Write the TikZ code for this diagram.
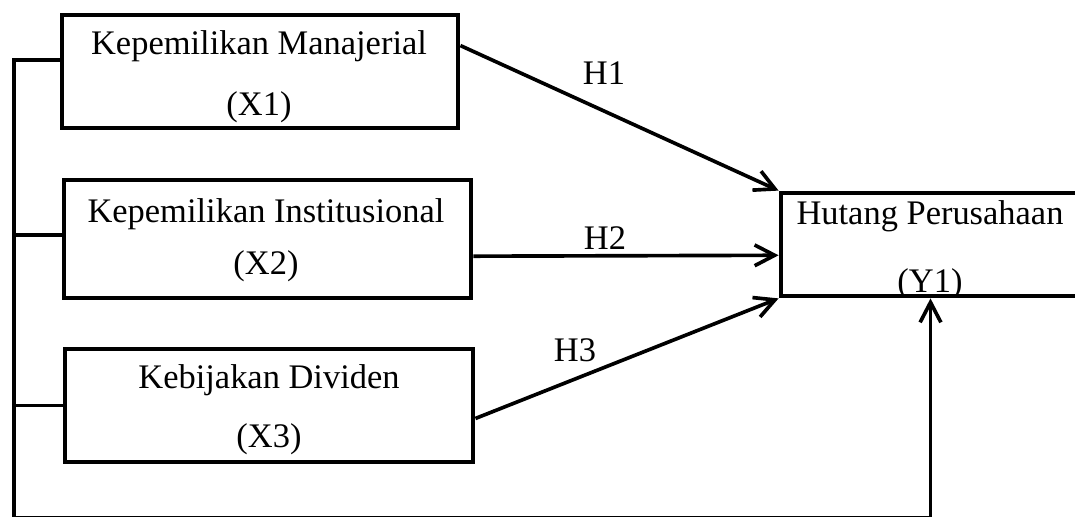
\documentclass[tikz,border=0pt]{standalone}
\usepackage{fontspec}
\setmainfont{Liberation Serif}
\usetikzlibrary{arrows.meta,calc}

\begin{document}
\begin{tikzpicture}[
  x=0.025cm,y=-0.025cm,
  varbox/.style={draw=black, line width=3.4pt, inner sep=0pt},
  link/.style={draw=black, line width=2.6pt},
  hyparrow/.style={link, -{Straight Barb[length=5mm,width=5.2mm]}},
  vartext/.style={anchor=base, inner sep=0pt,
    font=\fontsize{24.5}{29}\selectfont}
]

% Picture frame; the right side of the Y1 box runs off the page.
\clip (0,0) rectangle (1075,517);

% Independent variables.
\node[varbox, minimum width=9.9cm, minimum height=2.825cm]
  (x1) at (260,71.5) {};
\node[vartext] (x1name) at (259,55) {Kepemilikan Manajerial};
\node[vartext] (x1code) at (259,116) {(X1)};

\node[varbox, minimum width=10.175cm, minimum height=2.95cm]
  (x2) at (267.5,239) {};
\node[vartext] (x2name) at (266,223) {Kepemilikan Institusional};
\node[vartext] (x2code) at (266,275) {(X2)};

\node[varbox, minimum width=10.2cm, minimum height=2.825cm]
  (x3) at (269,405.5) {};
\node[vartext] (x3name) at (269,388) {Kebijakan Dividen};
\node[vartext] (x3code) at (269,447) {(X3)};

% Dependent variable.
\node[varbox, minimum width=7.475cm, minimum height=2.575cm]
  (y1) at (930.5,244.5) {};
\node[vartext] (y1name) at (930,225) {Hutang Perusahaan};
\begin{scope}
  \clip (y1.north west) rectangle ([yshift=0.12cm]y1.south east);
  \node[vartext] (y1code) at (930,293) {(Y1)};
\end{scope}

% Hypotheses.
\draw[hyparrow] ($(x1.north east)!0.28!(x1.south east)$) -- (y1.north west);
\draw[hyparrow] ($(x2.north east)!0.64!(x2.south east)$)
  -- ($(y1.north west)!0.6!(y1.south west)$);
\draw[hyparrow] ($(x3.north east)!0.61!(x3.south east)$) -- (y1.south west);

\node[vartext] (h1) at (604,85) {H1};
\node[vartext] (h2) at (605,250) {H2};
\node[vartext] (h3) at (575,361) {H3};

% Simultaneous path along the left and bottom.
\coordinate (spinebot) at (14,518.2);
\draw[hyparrow] ($(x1.north west)!0.4!(x1.south west)$) -| (spinebot)
  -| (y1.south);
\draw[link] ($(x2.north west)!0.47!(x2.south west)$) -- ++(-50,0);
\draw[link] (x3.west) -- ++(-51,0);

\end{tikzpicture}
\end{document}
